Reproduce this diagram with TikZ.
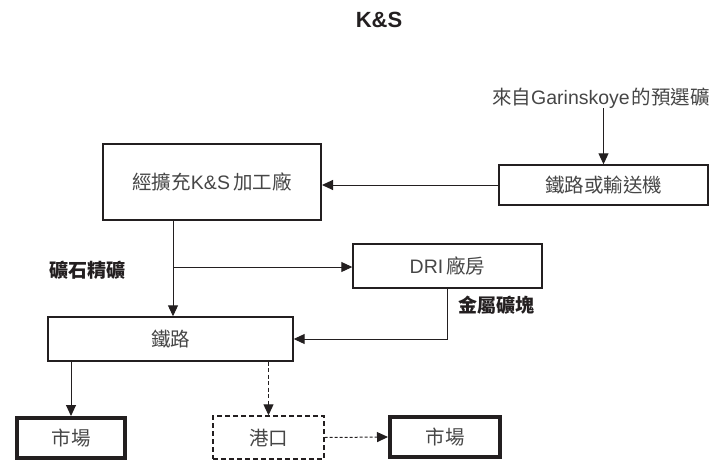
\documentclass[tikz,border=0pt]{standalone}
\usepackage{fontspec}
\setmainfont{Liberation Sans}
\newfontfamily\cjk{Noto Sans CJK TC}
\usetikzlibrary{arrows.meta}
\definecolor{ink}{RGB}{35,31,32}
\definecolor{txt}{RGB}{70,70,70}
\begin{document}
\begin{tikzpicture}[x=1pt,y=-1pt,
  lbl/.style={inner sep=0pt, text=txt, font=\fontsize{19.5}{21}\selectfont},
  blbl/.style={inner sep=0pt, text=ink, font=\fontsize{19}{21}\selectfont\bfseries},
  box/.style={draw=ink, line width=1.4pt, rectangle, inner sep=0pt, text=txt,
    font=\fontsize{19.5}{21}\selectfont},
  thickbox/.style={box, line width=2pt},
  mktbox/.style={box, line width=4pt},
  dashbox/.style={box, line width=1.4pt, dash pattern=on 5pt off 3pt},
  arr/.style={draw=ink, line width=1pt, -{Triangle[length=11pt,width=10pt]}},
  darr/.style={arr, dash pattern=on 4pt off 2.5pt},
  dotarr/.style={arr, dash pattern=on 3pt off 2pt}]
\useasboundingbox (0,0) rectangle (710,461);

\node[blbl, font=\fontsize{22}{24}\selectfont\bfseries] (title) at (379,20) {K\&S};

\node[lbl, anchor=east] (src) at (710,98) {{\cjk 來自}Garinskoye\hspace{2pt}{\cjk 的預選礦}};

\node[thickbox, minimum width=218pt, minimum height=76pt] (plant) at (212,182)
  {{\cjk 經擴充}K\&S\hspace{3pt}{\cjk 加工廠}};
\node[box, minimum width=209pt, minimum height=40pt] (conv) at (603.5,185)
  {\cjk 鐵路或輸送機};
\node[box, minimum width=189pt, minimum height=44pt] (dri) at (447.5,266)
  {DRI\hspace{3pt}{\cjk 廠房}};
\node[box, minimum width=245pt, minimum height=44pt] (rail) at (170.5,339)
  {\cjk 鐵路};
\node[mktbox, minimum width=108pt, minimum height=40pt] (m1) at (71,438)
  {\cjk 市場};
\node[dashbox, minimum width=111pt, minimum height=43pt] (port) at (268.5,437.5)
  {\cjk 港口};
\node[mktbox, minimum width=110pt, minimum height=40pt] (m2) at (445,437)
  {\cjk 市場};

\node[blbl] (ore) at (87.5,270) {\cjk 礦石精礦};
\node[blbl] (nug) at (496,305) {\cjk 金屬礦塊};

\coordinate (j) at (173,267);

\draw[arr] (src.south -| conv.north) -- (conv.north);
\draw[arr] (conv.west) -- (conv.west -| plant.east);
\draw[arr] (j |- plant.south) -- (j |- rail.north);
\draw[arr] (j) -- (j -| dri.west);
\draw[arr] (dri.south) |- (rail.east);
\draw[arr] (rail.south -| m1.north) -- (m1.north);
\draw[darr] (rail.south -| port.north) -- (port.north);
\draw[dotarr] (port.east) -- (m2.west);
\end{tikzpicture}
\end{document}
